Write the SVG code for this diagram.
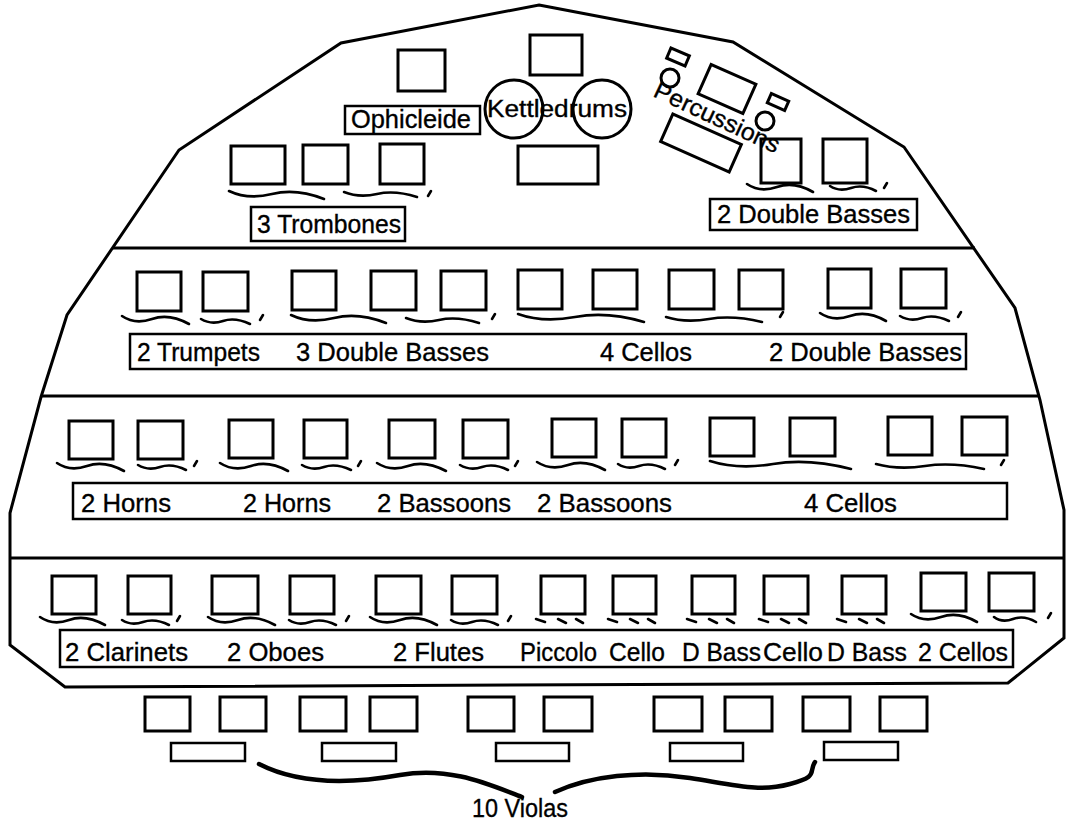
<svg xmlns="http://www.w3.org/2000/svg" width="1067" height="829" viewBox="0 0 1067 829">
<style>
.o{fill:none;stroke:#000;stroke-width:3;stroke-linejoin:miter}
.s{fill:#fff;stroke:#000;stroke-width:3}
.b{fill:#fff;stroke:#000;stroke-width:2.5}
.w{fill:none;stroke:#000;stroke-width:2.6;stroke-linecap:round}
.v{fill:none;stroke:#000;stroke-width:4.5;stroke-linecap:round}
.t{font-family:"Liberation Sans",Arial,Helvetica,sans-serif;font-size:25px;fill:#000;stroke:#000;stroke-width:0.35}
</style>
<rect width="1067" height="829" fill="#fff"/>
<g id="hall">
<polygon class="o" points="539,5 733,42 904,147 1015,308 1040,400 1064,510 1064,638 1008,683 65,687 10,645 10,513 41,397 67,315 179,150 341,43"/>
<line class="o" x1="113" y1="248" x2="975" y2="248"/>
<line class="o" x1="41" y1="396" x2="1040" y2="396"/>
<line class="o" x1="10" y1="558" x2="1064" y2="558"/>
</g>
<g id="ophicleide">
<rect class="s" x="398" y="50" width="47" height="41"/>
<rect class="b" x="345" y="106" width="135" height="28"/>
<text class="t" x="351" y="128" textLength="120" lengthAdjust="spacingAndGlyphs">Ophicleide</text>
</g>
<g id="kettledrums">
<rect class="s" x="530" y="35" width="52" height="40"/>
<circle class="o" cx="514" cy="109" r="29"/>
<circle class="o" cx="602" cy="109" r="29"/>
<rect class="s" x="518" y="146" width="80" height="38"/>
<text class="t" x="487" y="117" textLength="140" lengthAdjust="spacingAndGlyphs" style="font-size:23px">Kettledrums</text>
</g>
<g id="trombones">
<rect class="s" x="231" y="146" width="54" height="38"/>
<rect class="s" x="303" y="145" width="45" height="39"/>
<rect class="s" x="380" y="144" width="44" height="40"/>
<path class="w" d="m229,191 q19,9 43,3 t52,5"/>
<path class="w" d="m344,192 q15,6 33,2 t40,3"/>
<path class="w" d="m431,191 l-3,5"/>
<rect class="b" x="251" y="207" width="154" height="34"/>
<text class="t" x="257" y="233" textLength="144" lengthAdjust="spacingAndGlyphs">3 Trombones</text>
</g>
<g id="double-basses-top">
<rect class="s" x="761" y="139" width="40" height="44"/>
<rect class="s" x="823" y="139" width="44" height="44"/>
<path class="w" d="m747,184 q13,9 30,3 t36,5"/>
<path class="w" d="m830,186 q9,6 21,2 t25,3"/>
<path class="w" d="m887,183 l-3,5"/>
<rect class="b" x="710" y="199" width="207" height="31"/>
<text class="t" x="717" y="223" textLength="193" lengthAdjust="spacingAndGlyphs">2 Double Basses</text>
</g>
<g id="percussions">
<rect class="s" x="-10" y="-5.5" width="20" height="11" transform="translate(678,57) rotate(23)"/>
<circle class="o" cx="670" cy="78" r="9"/>
<rect class="s" x="-24.5" y="-16" width="49" height="32" transform="translate(727,89) rotate(24)"/>
<rect class="s" x="-9.5" y="-5" width="19" height="10" transform="translate(778,102) rotate(24)"/>
<circle class="o" cx="765" cy="121" r="9"/>
<rect class="s" x="-37.5" y="-15" width="75" height="30" transform="translate(701,143) rotate(24)"/>
<text class="t" x="0" y="0" transform="translate(652,96) rotate(25)" textLength="136" lengthAdjust="spacingAndGlyphs" style="font-size:24px">Percussions</text>
</g>
<g id="row2">
<rect class="s" x="137" y="272" width="44" height="39"/>
<rect class="s" x="203" y="272" width="45" height="39"/>
<rect class="s" x="292" y="271" width="44" height="39"/>
<rect class="s" x="371" y="271" width="45" height="39"/>
<rect class="s" x="441" y="271" width="45" height="39"/>
<rect class="s" x="518" y="270" width="44" height="39"/>
<rect class="s" x="593" y="270" width="44" height="39"/>
<rect class="s" x="669" y="270" width="45" height="39"/>
<rect class="s" x="739" y="270" width="44" height="39"/>
<rect class="s" x="828" y="269" width="43" height="39"/>
<rect class="s" x="901" y="269" width="45" height="39"/>
<path class="w" d="m122,316 q13,9 30,3 t37,5"/>
<path class="w" d="m201,319 q10,6 22,2 t27,3"/>
<path class="w" d="m263,315 l-3,5"/>
<path class="w" d="m291,315 q19,9 43,3 t52,5"/>
<path class="w" d="m406,318 q15,6 33,2 t40,3"/>
<path class="w" d="m495,314 l-3,5"/>
<path class="w" d="m518,314 q25,9 57,3 t69,5"/>
<path class="w" d="m666,317 q19,6 43,2 t53,3"/>
<path class="w" d="m783,312 l-3,5"/>
<path class="w" d="m820,313 q13,9 30,3 t36,5"/>
<path class="w" d="m900,316 q10,6 22,2 t27,3"/>
<path class="w" d="m961,312 l-3,5"/>
<rect class="b" x="130" y="334" width="836" height="35"/>
<text class="t" x="137" y="361" textLength="123" lengthAdjust="spacingAndGlyphs">2 Trumpets</text>
<text class="t" x="296" y="361" textLength="193" lengthAdjust="spacingAndGlyphs">3 Double Basses</text>
<text class="t" x="600" y="361" textLength="92" lengthAdjust="spacingAndGlyphs">4 Cellos</text>
<text class="t" x="769" y="361" textLength="193" lengthAdjust="spacingAndGlyphs">2 Double Basses</text>
</g>
<g id="row3">
<rect class="s" x="69" y="421" width="44" height="38"/>
<rect class="s" x="138" y="421" width="45" height="38"/>
<rect class="s" x="229" y="420" width="44" height="38"/>
<rect class="s" x="304" y="420" width="43" height="38"/>
<rect class="s" x="389" y="420" width="46" height="38"/>
<rect class="s" x="463" y="420" width="45" height="38"/>
<rect class="s" x="552" y="419" width="44" height="38"/>
<rect class="s" x="622" y="419" width="44" height="38"/>
<rect class="s" x="710" y="418" width="44" height="38"/>
<rect class="s" x="790" y="418" width="45" height="38"/>
<rect class="s" x="888" y="417" width="44" height="38"/>
<rect class="s" x="962" y="417" width="45" height="38"/>
<path class="w" d="m57,463 q13,9 30,3 t37,5"/>
<path class="w" d="m138,465 q10,6 22,2 t26,3"/>
<path class="w" d="m197,461 l-3,5"/>
<path class="w" d="m220,463 q14,9 31,3 t37,5"/>
<path class="w" d="m302,465 q10,6 22,2 t27,3"/>
<path class="w" d="m361,461 l-3,5"/>
<path class="w" d="m377,463 q14,9 31,3 t38,5"/>
<path class="w" d="m460,465 q10,6 22,2 t26,3"/>
<path class="w" d="m518,461 l-3,5"/>
<path class="w" d="m537,462 q14,9 31,3 t37,5"/>
<path class="w" d="m618,464 q9,6 21,2 t26,3"/>
<path class="w" d="m678,460 l-3,5"/>
<path class="w" d="m710,461 q28,9 63,3 t78,5"/>
<path class="w" d="m876,464 q22,6 49,2 t59,3"/>
<path class="w" d="m1004,460 l-3,5"/>
<rect class="b" x="73" y="483" width="934" height="36"/>
<text class="t" x="81" y="512" textLength="90" lengthAdjust="spacingAndGlyphs">2 Horns</text>
<text class="t" x="243" y="512" textLength="88" lengthAdjust="spacingAndGlyphs">2 Horns</text>
<text class="t" x="377" y="512" textLength="134" lengthAdjust="spacingAndGlyphs">2 Bassoons</text>
<text class="t" x="537" y="512" textLength="135" lengthAdjust="spacingAndGlyphs">2 Bassoons</text>
<text class="t" x="804" y="512" textLength="93" lengthAdjust="spacingAndGlyphs">4 Cellos</text>
</g>
<g id="row4">
<rect class="s" x="52" y="576" width="44" height="38"/>
<rect class="s" x="128" y="576" width="43" height="38"/>
<rect class="s" x="212" y="576" width="46" height="38"/>
<rect class="s" x="290" y="576" width="44" height="38"/>
<rect class="s" x="376" y="576" width="45" height="38"/>
<rect class="s" x="452" y="576" width="45" height="38"/>
<rect class="s" x="541" y="576" width="44" height="38"/>
<rect class="s" x="613" y="576" width="43" height="38"/>
<rect class="s" x="692" y="576" width="43" height="38"/>
<rect class="s" x="764" y="576" width="44" height="38"/>
<rect class="s" x="842" y="576" width="44" height="38"/>
<rect class="s" x="921" y="573" width="45" height="38"/>
<rect class="s" x="989" y="573" width="45" height="38"/>
<path class="w" d="m40,617 q13,9 29,3 t36,5"/>
<path class="w" d="m122,620 q9,6 21,2 t26,3"/>
<path class="w" d="m180,616 l-3,5"/>
<path class="w" d="m208,617 q13,9 30,3 t37,5"/>
<path class="w" d="m289,620 q9,6 21,2 t26,3"/>
<path class="w" d="m349,616 l-3,5"/>
<path class="w" d="m370,617 q13,9 30,3 t37,5"/>
<path class="w" d="m451,620 q9,6 21,2 t26,3"/>
<path class="w" d="m511,616 l-3,5"/>
<path class="w" d="m536,619 l9,3 m13,-3 l8,4 m10,-4 l7,4"/>
<path class="w" d="m608,619 l9,3 m13,-3 l8,4 m10,-4 l7,4"/>
<path class="w" d="m687,619 l9,3 m13,-3 l8,4 m10,-4 l7,4"/>
<path class="w" d="m759,619 l9,3 m13,-3 l8,4 m10,-4 l7,4"/>
<path class="w" d="m837,619 l9,3 m13,-3 l8,4 m10,-4 l7,4"/>
<path class="w" d="m911,614 q13,9 30,3 t36,5"/>
<path class="w" d="m994,617 q8,6 19,2 t23,3"/>
<path class="w" d="m1051,613 l-3,5"/>
<rect class="b" x="60" y="630" width="953" height="37"/>
<text class="t" x="65" y="661" textLength="123" lengthAdjust="spacingAndGlyphs">2 Clarinets</text>
<text class="t" x="227" y="661" textLength="97" lengthAdjust="spacingAndGlyphs">2 Oboes</text>
<text class="t" x="393" y="661" textLength="91" lengthAdjust="spacingAndGlyphs">2 Flutes</text>
<text class="t" x="520" y="661" textLength="77" lengthAdjust="spacingAndGlyphs">Piccolo</text>
<text class="t" x="609" y="661" textLength="56" lengthAdjust="spacingAndGlyphs">Cello</text>
<text class="t" x="682" y="661" textLength="79" lengthAdjust="spacingAndGlyphs">D Bass</text>
<text class="t" x="763" y="661" textLength="60" lengthAdjust="spacingAndGlyphs">Cello</text>
<text class="t" x="827" y="661" textLength="80" lengthAdjust="spacingAndGlyphs">D Bass</text>
<text class="t" x="918" y="661" textLength="90" lengthAdjust="spacingAndGlyphs">2 Cellos</text>
</g>
<g id="violas">
<rect class="s" x="145" y="697" width="45" height="34"/>
<rect class="s" x="220" y="697" width="46" height="34"/>
<rect class="s" x="300" y="697" width="46" height="34"/>
<rect class="s" x="370" y="697" width="47" height="34"/>
<rect class="s" x="468" y="697" width="46" height="34"/>
<rect class="s" x="544" y="697" width="48" height="34"/>
<rect class="s" x="654" y="697" width="48" height="34"/>
<rect class="s" x="725" y="697" width="47" height="34"/>
<rect class="s" x="803" y="697" width="47" height="34"/>
<rect class="s" x="880" y="697" width="47" height="34"/>
<rect class="b" x="171" y="743" width="74" height="18"/>
<rect class="b" x="322" y="743" width="74" height="18"/>
<rect class="b" x="496" y="743" width="73" height="18"/>
<rect class="b" x="670" y="743" width="73" height="18"/>
<rect class="b" x="824" y="742" width="74" height="18"/>
<text class="t" x="472" y="817" textLength="96" lengthAdjust="spacingAndGlyphs" style="font-size:26px">10 Violas</text>
</g>
<g id="connectors">
<path class="v" d="M259,764 C300,785 350,784 400,775 S490,785 522,797"/>
<path class="v" d="M555,792 C590,776 640,770 690,778 S760,792 790,784 S808,772 815,762"/>
</g>
</svg>
